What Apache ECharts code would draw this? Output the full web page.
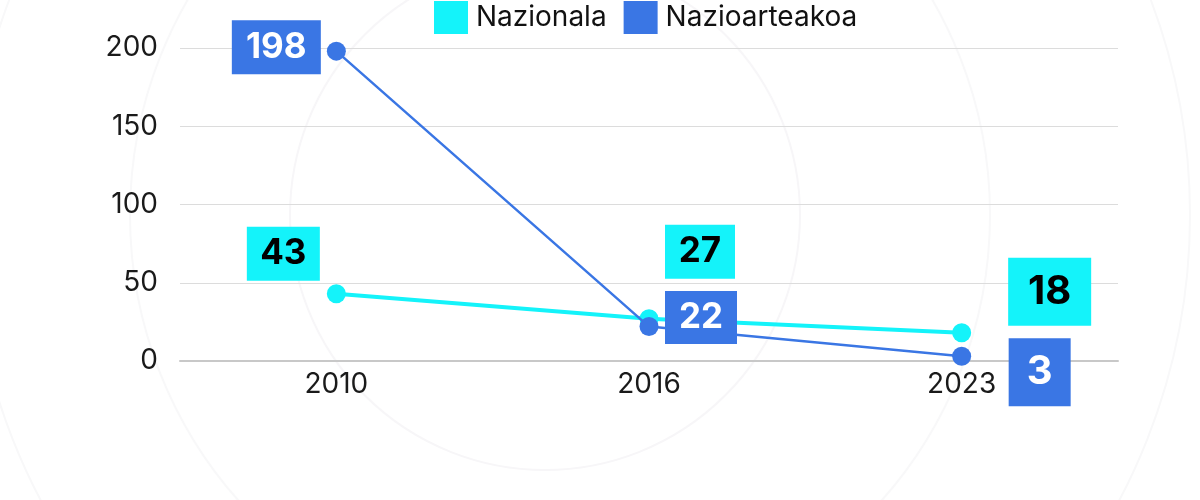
<!DOCTYPE html>
<html>
<head>
<meta charset="utf-8">
<script src="https://cdn.jsdelivr.net/npm/echarts@6/dist/echarts.min.js"></script>
<style>
html,body{margin:0;padding:0;background:#fff;}
#chart{width:1200px;height:500px;}
</style>
</head>
<body>
<div id="chart"></div>
<script>
const categories = ['2010', '2016', '2023'];
const nazionala = [43, 27, 18];
const nazioarteakoa = [198, 22, 3];
const seriesNames = ['Nazionala', 'Nazioarteakoa'];
const yTicks = { min: 0, max: 200, interval: 50 };

const CYAN = '#14F3FA';
const BLUE = '#3A76E4';
const FONT = 'Inter, Roboto, "Noto Sans", sans-serif';

// label box layout per point (offset from point, box size, font size)
const labelLayoutNaz = [
  { off: [-53, -40], w: 73, h: 54, fs: 35 },
  { off: [51, -67], w: 70, h: 54, fs: 35 },
  { off: [88, -41], w: 83, h: 68, fs: 40 }
];
const labelLayoutInt = [
  { off: [-60, -4], w: 89, h: 54, fs: 35 },
  { off: [52, -9], w: 72, h: 53, fs: 35 },
  { off: [78, 16], w: 62, h: 68, fs: 40 }
];

function buildData(values, layout, bg, fg) {
  return values.map((v, i) => ({
    value: v,
    label: {
      show: true,
      position: 'inside',
      offset: layout[i].off,
      width: layout[i].w,
      height: layout[i].h,
      lineHeight: layout[i].h,
      align: 'center',
      verticalAlign: 'middle',
      backgroundColor: bg,
      color: fg,
      fontSize: layout[i].fs,
      fontWeight: 'bold',
      fontFamily: FONT,
      padding: 0
    }
  }));
}

const chart = echarts.init(document.getElementById('chart'));
chart.setOption({
  backgroundColor: '#ffffff',
  animation: false,
  graphic: [
    { type: 'circle', silent: true, z: -10, shape: { cx: 545, cy: 215, r: 255 }, style: { fill: 'none', stroke: '#f7f6f8', lineWidth: 2 } },
    { type: 'circle', silent: true, z: -10, shape: { cx: 560, cy: 215, r: 430 }, style: { fill: 'none', stroke: '#f8f8f9', lineWidth: 2 } },
    { type: 'circle', silent: true, z: -10, shape: { cx: 580, cy: 215, r: 610 }, style: { fill: 'none', stroke: '#f8f8f9', lineWidth: 2 } }
  ],
  legend: {
    data: seriesNames,
    left: 434,
    top: 1,
    padding: 0,
    icon: 'rect',
    itemWidth: 34,
    itemHeight: 33,
    itemGap: 17,
    itemStyle: { borderWidth: 0 },
    textStyle: { fontSize: 28, color: '#111', fontFamily: FONT, padding: [0, 0, 0, 3] }
  },
  grid: { left: 180, right: 82, top: 48, bottom: 139 },
  xAxis: {
    type: 'category',
    data: categories,
    boundaryGap: true,
    axisLine: { lineStyle: { color: '#c8c8c8', width: 2 } },
    axisTick: { show: false },
    axisLabel: { fontSize: 28, color: '#1a1a1a', margin: 10, fontFamily: FONT }
  },
  yAxis: {
    type: 'value',
    min: yTicks.min,
    max: yTicks.max,
    interval: yTicks.interval,
    axisLine: { show: false },
    axisTick: { show: false },
    splitLine: { lineStyle: { color: '#dcdcdc', width: 1 } },
    axisLabel: { fontSize: 28, color: '#1a1a1a', margin: 22, fontFamily: FONT }
  },
  series: [
    {
      name: seriesNames[0],
      type: 'line',
      data: buildData(nazionala, labelLayoutNaz, CYAN, '#000'),
      color: CYAN,
      symbol: 'circle',
      symbolSize: 19,
      lineStyle: { width: 4, color: CYAN },
      itemStyle: { color: CYAN },
      z: 2
    },
    {
      name: seriesNames[1],
      type: 'line',
      data: buildData(nazioarteakoa, labelLayoutInt, BLUE, '#fff'),
      color: BLUE,
      symbol: 'circle',
      symbolSize: 19,
      lineStyle: { width: 2.5, color: BLUE },
      itemStyle: { color: BLUE },
      z: 3
    }
  ]
});
</script>
</body>
</html>
